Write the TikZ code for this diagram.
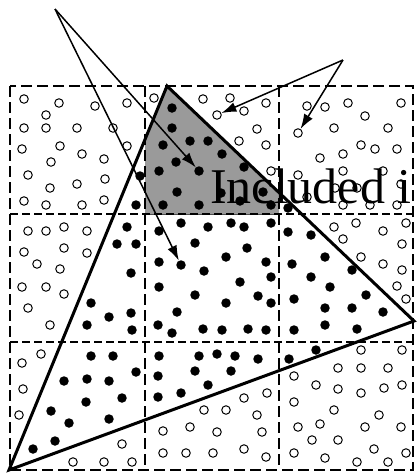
\documentclass[tikz,border=0pt]{standalone}
\usepackage{fontspec}
\setmainfont{Liberation Serif}
\usetikzlibrary{arrows.meta}
\definecolor{cellgray}{HTML}{9A9A9A}

\begin{document}
\begin{tikzpicture}[
  x=1pt,y=-1pt,
  cellline/.style={dash pattern=on 11pt off 5pt,line width=2pt},
  rowline/.style={dash pattern=on 8pt off 4pt,line width=1.6pt},
  tri/.style={line width=3pt,line join=miter},
  indot/.style={circle,fill=black,inner sep=0pt,minimum size=9.5pt},
  outdot/.style={circle,draw=black,line width=1pt,inner sep=0pt,minimum size=8.5pt},
  arr/.style={-{Latex[length=15pt,width=10pt]},line width=1.5pt},
  bigtext/.style={font=\fontsize{50}{50}\selectfont,inner sep=0pt,anchor=base west}
]
\useasboundingbox (0,0) rectangle (417,475);
% corners of the triangle and the cells
\coordinate (top) at (167,86);
\coordinate (rgt) at (414,321);
\coordinate (bl) at (9,470);
\coordinate (srcL) at (55,9);
\coordinate (srcR) at (343,60);

% shaded part of the cell
\begin{scope}
  \clip (145,86) rectangle (279,214);
  \fill[cellgray] (top) -- (rgt) -- (bl) -- cycle;
\end{scope}
\draw[line width=0.8pt,draw=black!70] (145,214) -- (279,214);

% cells
\draw[cellline] (10,86) rectangle (413,470);
\draw[cellline] (145,86) -- (145,470);
\draw[cellline] (279,86) -- (279,470);
\draw[rowline] (10,214) -- (413,214);
\draw[rowline] (10,342) -- (413,342);

% points outside
\foreach \x/\y [count=\i] in {24/99,59/103,95/106,127/103,46/115,24/128,46/128,77/128,113/128,
  22/149,60/146,82/154,104/159,127/146,51/162,28/175,105/179,77/184,50/188,24/201,46/205,82/205,104/200,
  28/231,46/231,64/227,87/231,24/252,64/248,87/253,37/264,60/269,22/287,46/287,64/294,28/308,50/325,
  41/354,22/363,23/389,19/415,122/444,73/462,104/462,132/462,
  154/98,203/99,230/98,266/103,244/111,257/129,239/141,266/145,271/171,
  307/106,325/107,348/103,401/103,365/116,334/128,388/128,361/145,375/149,397/149,320/158,343/154,
  298/175,343/171,383/171,401/184,335/188,357/188,307/197,343/205,370/205,397/205,
  334/227,356/223,343/239,383/231,406/223,402/244,361/257,383/264,402/270,397/286,406/299,
  244/398,267/393,204/410,226/410,257/415,163/431,190/427,217/432,262/432,163/453,186/453,213/453,244/449,266/457,
  361/350,402/350,338/368,361/368,388/368,294/376,316/385,338/389,361/393,384/388,402/385,294/402,334/410,
  379/415,298/427,320/424,365/427,401/427,312/440,338/440,294/453,325/458,357/462,374/449,388/462,406/453}
  \node[outdot] (out\i) at (\x,\y) {};
\node[outdot] (tout1) at (217,115) {};
\node[outdot] (tout2) at (298,133) {};

% points inside
\foreach \x/\y [count=\i] in {140/176,136/205,
  127/227,117/244,136/244,131/273,91/303,109/317,131/313,87/325,132/330,
  91/356,113/356,136/372,64/381,87/379,109/381,122/398,86/402,51/411,69/423,109/419,55/441,33/449,
  172/108,172/128,163/145,190/141,208/141,222/154,176/162,159/171,244/167,177/192,221/193,240/201,
  163/205,199/205,263/192,271/205,288/208,
  181/223,208/227,231/223,244/227,271/223,159/231,195/243,247/248,226/257,159/262,266/262,204/271,
  159/287,240/282,271/277,195/295,226/303,258/296,271/303,177/312,158/325,172/333,203/329,222/330,248/329,266/330,
  288/232,311/235,325/257,292/264,352/270,311/277,330/287,294/299,366/295,325/308,352/308,383/312,294/330,325/325,357/329,
  159/356,199/356,217/354,235/356,258/359,158/376,195/371,231/371,208/385,158/397,181/393,316/350,289/359}
  \node[indot] (in\i) at (\x,\y) {};
\node[indot] (tin1) at (199,171) {};
\node[indot] (tin2) at (181,265) {};

% triangle
\draw[tri] (top) -- (rgt) -- (bl) -- cycle;

\node[bigtext] (lbl) at (210,203) {Included i};

\draw[arr] (srcL) -- (tin1);
\draw[arr] (srcL) -- (tin2);
\draw[arr] (srcR) -- (tout1);
\draw[arr] (srcR) -- (tout2);
\end{tikzpicture}
\end{document}
